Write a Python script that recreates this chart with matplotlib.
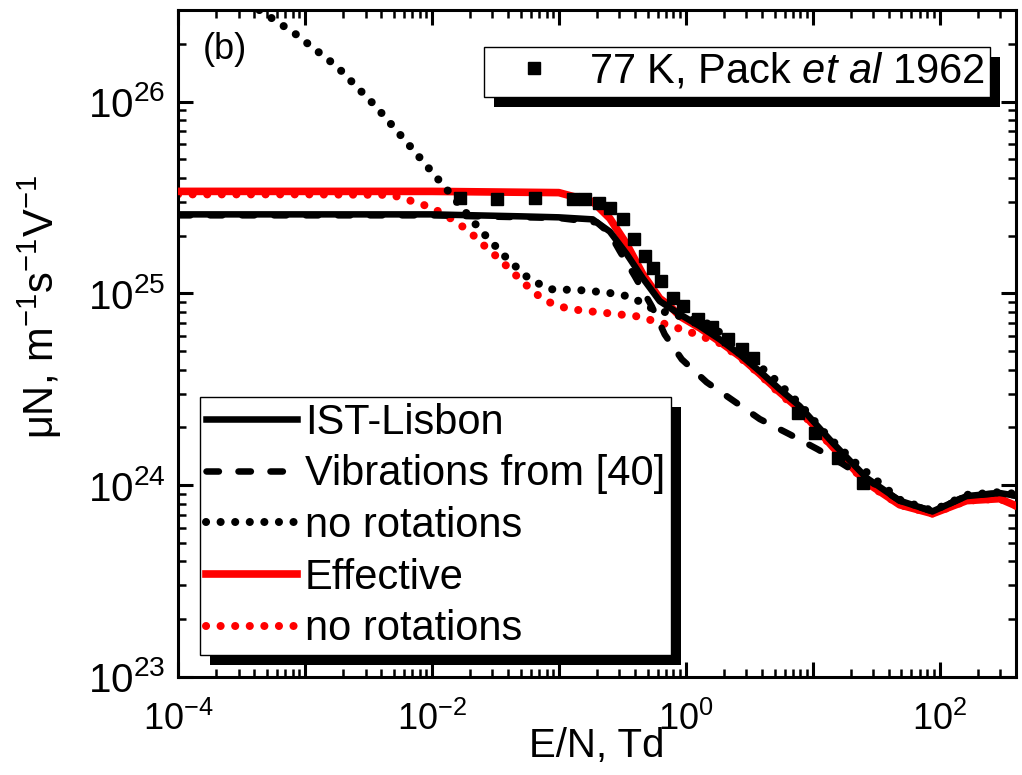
import numpy as np
import matplotlib
matplotlib.use("Agg")
import matplotlib.pyplot as plt
from matplotlib import font_manager
from matplotlib.patches import Rectangle
from matplotlib.ticker import LogLocator, NullFormatter

names = {f.name for f in font_manager.fontManager.ttflist}
NARROW = "Liberation Sans Narrow" if "Liberation Sans Narrow" in names else "Liberation Sans"

plt.rcParams["font.family"] = ["Liberation Sans", "DejaVu Sans"]
plt.rcParams["mathtext.fontset"] = "custom"
plt.rcParams["mathtext.rm"] = NARROW
plt.rcParams["mathtext.sf"] = "Liberation Sans"
plt.rcParams["mathtext.it"] = "Liberation Sans:italic"

# IST-Lisbon (black solid)
x_ist = [1e-4, 1e-2, 0.05, 0.1, 0.185, 0.252, 0.343, 0.458, 0.624, 0.897, 1.29, 1.85,
         2.66, 3.83, 5.5, 7.9, 14.4, 26.6, 48.4, 88, 163, 297, 400]
y_ist = [2.58e25, 2.58e25, 2.52e25, 2.49e25, 2.43e25, 2.1e25, 1.6e25, 1.2e25, 9.1e24,
         7.78e24, 6.74e24, 5.76e24, 4.81e24, 3.92e24, 3.16e24, 2.58e24, 1.66e24, 1.09e24,
         8.3e23, 7.3e23, 8.77e23, 9.1e23, 8.8e23]

# Vibrations from [40] (black dashed)
x_vib = [1e-4, 1e-2, 0.1, 0.2, 0.252, 0.302, 0.396, 0.54, 0.683, 0.93, 1.46, 2.22, 3.83,
         6.59, 10.9, 17.2, 28.1, 48.4, 88, 163, 297, 400]
y_vib = [2.55e25, 2.55e25, 2.47e25, 2.34e25, 2.05e25, 1.66e25, 1.23e25, 8.55e24, 6.1e24,
         4.53e24, 3.44e24, 2.84e24, 2.21e24, 1.84e24, 1.54e24, 1.29e24, 1.05e24, 8.3e23,
         7.3e23, 8.8e23, 9.1e23, 8.8e23]

# no rotations (black dotted)
x_norot = [3.5e-4, 4.84e-4, 8.34e-4, 1.79e-3, 3.62e-3, 7.08e-3, 1.31e-2, 2.39e-2, 3.9e-2,
           5.91e-2, 8.65e-2, 0.144, 0.239, 0.369, 0.54, 0.9, 1.55, 2.76, 4.75, 8.19, 13.1,
           22.2, 48.4, 88, 163, 297, 400]
y_norot = [3.3e26, 2.87e26, 2.26e26, 1.52e26, 9.42e25, 5.62e25, 3.48e25, 2.15e25, 1.52e25,
           1.18e25, 1.05e25, 1.04e25, 1.01e25, 9.6e24, 8.35e24, 7.6e24, 6.9e24, 4.99e24,
           3.7e24, 2.58e24, 1.8e24, 1.29e24, 8.4e23, 7.35e23, 8.9e23, 9.2e23, 9.0e23]

# Effective (red solid)
x_eff = [1e-4, 1e-2, 0.1, 0.129, 0.185, 0.252, 0.343, 0.458, 0.624, 0.748, 0.897, 1.29,
         1.85, 2.66, 3.83, 5.5, 7.9, 14.4, 26.6, 48.4, 88, 163, 297, 400]
y_eff = [3.4e25, 3.4e25, 3.35e25, 3.2e25, 3.01e25, 2.46e25, 1.8e25, 1.26e25, 9.4e24,
         8.6e24, 7.6e24, 6.6e24, 5.6e24, 4.7e24, 3.8e24, 3.05e24, 2.48e24, 1.58e24,
         1.03e24, 7.9e23, 7.1e23, 8.3e23, 8.5e23, 7.8e23]

# no rotations (red dotted)
x_eff_norot = [1e-4, 1e-3, 4.84e-3, 6.24e-3, 8.05e-3, 1.02e-2, 1.29e-2, 1.57e-2, 1.92e-2,
               2.3e-2, 2.76e-2, 3.37e-2, 4.04e-2, 4.84e-2, 5.91e-2, 7.22e-2, 8.97e-2,
               0.116, 0.149, 0.248, 0.411, 0.659, 1.09, 1.85, 2.66, 3.83, 5.5, 7.9, 14.4,
               26.6, 48.4, 88, 163, 297, 400]
y_eff_norot = [3.28e25, 3.28e25, 3.26e25, 3.09e25, 2.94e25, 2.77e25, 2.55e25, 2.34e25,
               2.13e25, 1.91e25, 1.7e25, 1.52e25, 1.35e25, 1.2e25, 1.06e25, 9.5e24, 8.8e24,
               8.35e24, 8.15e24, 7.87e24, 7.59e24, 6.98e24, 6.27e24, 5.5e24, 4.65e24,
               3.78e24, 3.0e24, 2.45e24, 1.57e24, 1.02e24, 7.9e23, 7.1e23, 8.3e23, 8.5e23,
               7.8e23]

# 77 K, Pack et al 1962 (squares)
x_pack = [0.0166, 0.0325, 0.0648, 0.129, 0.16, 0.207, 0.252, 0.319, 0.39, 0.476, 0.55,
          0.636, 0.79, 0.946, 1.24, 1.6, 2.14, 2.76, 3.37, 7.62, 10.4, 15.7, 24.8]
y_pack = [3.13e25, 3.09e25, 3.13e25, 3.09e25, 3.09e25, 2.94e25, 2.77e25, 2.43e25, 1.93e25,
          1.56e25, 1.35e25, 1.16e25, 9.5e24, 8.55e24, 7.33e24, 6.65e24, 5.76e24, 5.1e24,
          4.58e24, 2.37e24, 1.87e24, 1.38e24, 1.02e24]

x_major = [1e-4, 1e-3, 1e-2, 1e-1, 1e0, 1e1, 1e2]
x_labels = ["$10^{-4}$", "", "$10^{-2}$", "", "$10^{0}$", "", "$10^{2}$"]
y_major = [1e23, 1e24, 1e25, 1e26]
y_labels = [r"$\mathsf{10^{23}}$", r"$\mathsf{10^{24}}$", r"$\mathsf{10^{25}}$", r"$\mathsf{10^{26}}$"]

fig = plt.figure(figsize=(10.22, 7.75), dpi=100)
ax = fig.add_axes([0.1742, 0.1265, 0.820, 0.8606])

dot = (0, (0.01, 1.8))
dash = (0, (1.9, 3.0))
l5, = ax.plot(x_eff_norot, y_eff_norot, color="red", lw=5.8, ls=dot, dash_capstyle="round",
              zorder=2, label="no rotations")
l4, = ax.plot(x_eff, y_eff, color="red", lw=5.5, zorder=3, label="Effective")
l2, = ax.plot(x_vib, y_vib, color="black", lw=4.7, ls=dash, dash_capstyle="round",
              zorder=4, label="Vibrations from [40]")
l1, = ax.plot(x_ist, y_ist, color="black", lw=4.7, zorder=5, label="IST-Lisbon")
l3, = ax.plot(x_norot, y_norot, color="black", lw=5.8, ls=dot, dash_capstyle="round",
              zorder=6, label="no rotations")
lp, = ax.plot(x_pack, y_pack, "ks", ms=8.5, ls="none", zorder=7,
              label="77 K, Pack $\\mathit{et\\ al}$ 1962")

ax.set_xscale("log")
ax.set_yscale("log")
ax.set_xlim(1e-4, 400)
ax.set_ylim(1e23, 3e26)
ax.set_xticks(x_major, x_labels)
ax.set_yticks(y_major, y_labels)
ax.xaxis.set_minor_locator(LogLocator(base=10, subs=np.arange(2, 10) * 1.0, numticks=30))
ax.yaxis.set_minor_locator(LogLocator(base=10, subs=np.arange(2, 10) * 1.0, numticks=30))
ax.xaxis.set_minor_formatter(NullFormatter())
ax.yaxis.set_minor_formatter(NullFormatter())
ax.tick_params(which="both", direction="in", top=True, right=True)
ax.tick_params(which="major", length=11, width=2.2)
ax.tick_params(which="minor", length=6, width=1.8)
ax.tick_params(axis="x", which="major", labelsize=26, pad=18)
ax.tick_params(axis="y", which="major", labelsize=29, pad=9)
for s in ax.spines.values():
    s.set_linewidth(2.2)

ax.set_xlabel("E/N, Td", fontsize=29, family=[NARROW, "DejaVu Sans"])
ax.xaxis.set_label_coords(0.5, -0.075)
ax.set_ylabel("\u03bcN, m$^{-1}$s$^{-1}$V$^{-1}$", fontsize=30, family=[NARROW, "DejaVu Sans"])
ax.yaxis.set_label_coords(-0.136, 0.555)

ax.text(0.03, 0.967, "(b)", transform=ax.transAxes, ha="left", va="top", fontsize=26)

leg1 = ax.legend(handles=[lp], loc="upper right", bbox_to_anchor=(0.969, 0.945),
                 borderaxespad=0, fontsize=30, numpoints=1, handlelength=2.16,
                 handletextpad=0.24, borderpad=0.12, fancybox=False, framealpha=1,
                 edgecolor="black")
leg1.set_zorder(20)
ax.add_artist(leg1)
leg2 = ax.legend(handles=[l1, l2, l3, l4, l5], loc="upper left",
                 bbox_to_anchor=(0.026, 0.42), borderaxespad=0, fontsize=30,
                 handlelength=2.2, handletextpad=0.18, borderpad=0.14, labelspacing=0.28,
                 fancybox=False, framealpha=1, edgecolor="black")
leg2.set_zorder(20)
for lg in (leg1, leg2):
    lg.get_frame().set_linewidth(1.0)

fig.canvas.draw()
axbb = ax.get_window_extent()
for lg in (leg1, leg2):
    bb = lg.get_frame().get_window_extent().transformed(ax.transAxes.inverted())
    sh = Rectangle((bb.x0 + 10 / axbb.width, bb.y0 - 10 / axbb.height), bb.width, bb.height,
                   transform=ax.transAxes, facecolor="black", edgecolor="none",
                   zorder=19, clip_on=False)
    ax.add_patch(sh)

fig.savefig("out.png", dpi=100)
